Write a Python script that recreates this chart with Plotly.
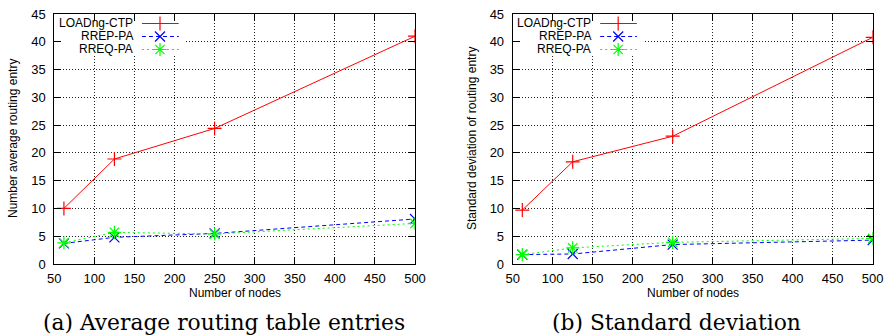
import plotly.graph_objects as go

W, H = 885, 336

# ---------------- data ----------------
nodes = [62, 125, 250, 500]

avg_loadng = [10.0, 18.9, 24.4, 41.0]
avg_rrep = [3.7, 4.8, 5.5, 8.1]
avg_rreq = [3.8, 5.7, 5.4, 7.3]

std_loadng = [9.7, 18.4, 23.0, 40.8]
std_rrep = [1.7, 1.8, 3.5, 4.3]
std_rreq = [1.7, 2.9, 3.9, 4.6]

series_names = ["LOADng-CTP", "RREP-PA", "RREQ-PA"]
x_ticks = [50, 100, 150, 200, 250, 300, 350, 400, 450, 500]
y_ticks = [0, 5, 10, 15, 20, 25, 30, 35, 40, 45]

captions = ["(a) Average routing table entries", "(b) Standard deviation"]
y_titles = ["Number average routing entry", "Standard deviation of routing entry"]
x_title = "Number of nodes"

# ---------------- styles ----------------
colors = ["#ff0000", "#0000ff", "#00ff00"]
dashes = ["solid", "4px,3px", "2px,3px"]
symbols = ["cross-thin", "x-thin", "asterisk"]
msizes = [10, 10, 11]

SANS = "Liberation Sans, Arial, sans-serif"
SERIF = "DejaVu Serif, Liberation Serif, serif"


def px_x(p):
    return p / W


def px_y(p):
    return 1 - p / H


dom_x = [[px_x(54.3), px_x(415)], [px_x(512.7), px_x(872.7)]]
dom_y = [px_y(264), px_y(14)]

fig = go.Figure()

panels = [
    (avg_loadng, avg_rrep, avg_rreq),
    (std_loadng, std_rrep, std_rreq),
]

for i, ys in enumerate(panels):
    xa = "x" if i == 0 else "x2"
    ya = "y" if i == 0 else "y2"
    for j, vals in enumerate(ys):
        fig.add_trace(go.Scatter(
            x=nodes, y=vals, mode="lines+markers", name=series_names[j],
            xaxis=xa, yaxis=ya, showlegend=False, hoverinfo="skip",
            line=dict(color=colors[j], width=1, dash=dashes[j]),
            marker=dict(symbol=symbols[j], size=msizes[j], color=colors[j],
                        line=dict(color=colors[j], width=1.2)),
        ))

# ---------- gnuplot-style key drawn on hidden overlay axes (0..1 of plot area) ----------
key_box = dict(x0=0.003, x1=0.363, y0=0.832, y1=0.996)
row_y = [0.962, 0.91, 0.858]
key_line_x = [0.243, 0.345]
key_mark_x = 0.293
for i in range(2):
    kx = "x3" if i == 0 else "x4"
    ky = "y3" if i == 0 else "y4"
    fig.add_trace(go.Scatter(
        x=[key_box["x0"], key_box["x1"], key_box["x1"], key_box["x0"], key_box["x0"]],
        y=[key_box["y0"], key_box["y0"], key_box["y1"], key_box["y1"], key_box["y0"]],
        mode="lines", fill="toself", fillcolor="white", line=dict(width=0, color="white"),
        xaxis=kx, yaxis=ky, showlegend=False, hoverinfo="skip"))
    for j in range(3):
        fig.add_trace(go.Scatter(
            x=key_line_x, y=[row_y[j], row_y[j]], mode="lines",
            line=dict(color=colors[j], width=1, dash=dashes[j]),
            xaxis=kx, yaxis=ky, showlegend=False, hoverinfo="skip"))
        fig.add_trace(go.Scatter(
            x=[key_mark_x], y=[row_y[j]], mode="markers",
            marker=dict(symbol=symbols[j], size=msizes[j], color=colors[j],
                        line=dict(color=colors[j], width=1.2)),
            xaxis=kx, yaxis=ky, showlegend=False, hoverinfo="skip"))

axis_common = dict(
    showline=True, mirror="ticks", linecolor="black", linewidth=1,
    ticks="inside", ticklen=7, tickcolor="black", tickwidth=1,
    showgrid=True, gridcolor="#222222", gridwidth=1, griddash="1px,2px",
    zeroline=False, automargin=False,
    tickfont=dict(family=SANS, size=13, color="black"),
)

layout_axes = {}
for i in range(2):
    sx = "" if i == 0 else "2"
    layout_axes["xaxis" + sx] = dict(
        axis_common, domain=dom_x[i], range=[50, 500], tickvals=x_ticks,
        anchor="y" + sx, ticklabelstandoff=2,
    )
    layout_axes["yaxis" + sx] = dict(
        axis_common, domain=dom_y, range=[0, 45], tickvals=y_ticks,
        anchor="x" + sx, ticklabelstandoff=5,
    )
    ox = "3" if i == 0 else "4"
    layout_axes["xaxis" + ox] = dict(overlaying="x" + sx, range=[0, 1], visible=False,
                                     anchor="y" + ox, fixedrange=True)
    layout_axes["yaxis" + ox] = dict(overlaying="y" + sx, range=[0, 1], visible=False,
                                     anchor="x" + ox, fixedrange=True)

fig.update_layout(
    width=W, height=H, autosize=False,
    margin=dict(l=0, r=0, t=0, b=0, pad=0),
    paper_bgcolor="white", plot_bgcolor="white",
    showlegend=False, hovermode=False,
    **layout_axes,
)

annotations = []

ytitle_x = [13, 472]
caption_x = [224, 676.5]
for i in range(2):
    xc = (dom_x[i][0] + dom_x[i][1]) / 2
    annotations.append(dict(
        text=x_title, x=xc, y=px_y(293), xref="paper", yref="paper",
        showarrow=False, font=dict(family=SANS, size=12, color="black"),
        xanchor="center", yanchor="middle"))
    annotations.append(dict(
        text=y_titles[i], x=px_x(ytitle_x[i]), y=px_y(139), xref="paper", yref="paper",
        textangle=-90, showarrow=False, font=dict(family=SANS, size=12, color="black"),
        xanchor="center", yanchor="middle"))
    annotations.append(dict(
        text=captions[i], x=px_x(caption_x[i]), y=px_y(322), xref="paper", yref="paper",
        showarrow=False, font=dict(family=SERIF, size=21.8, color="black"),
        xanchor="center", yanchor="middle", borderpad=0))
    xr = "x" + ("" if i == 0 else "2") + " domain"
    yr = "y" + ("" if i == 0 else "2") + " domain"
    for j in range(3):
        annotations.append(dict(
            text=series_names[j], x=0.22, y=row_y[j], xref=xr, yref=yr,
            showarrow=False, xanchor="right", yanchor="middle", borderpad=0,
            font=dict(family=SANS, size=12, color="black")))

fig.update_layout(annotations=annotations)

fig.write_html(
    "out.html",
    config={"displayModeBar": False, "staticPlot": True},
    post_script="document.body.style.margin='0';document.body.style.overflow='hidden';",
)
